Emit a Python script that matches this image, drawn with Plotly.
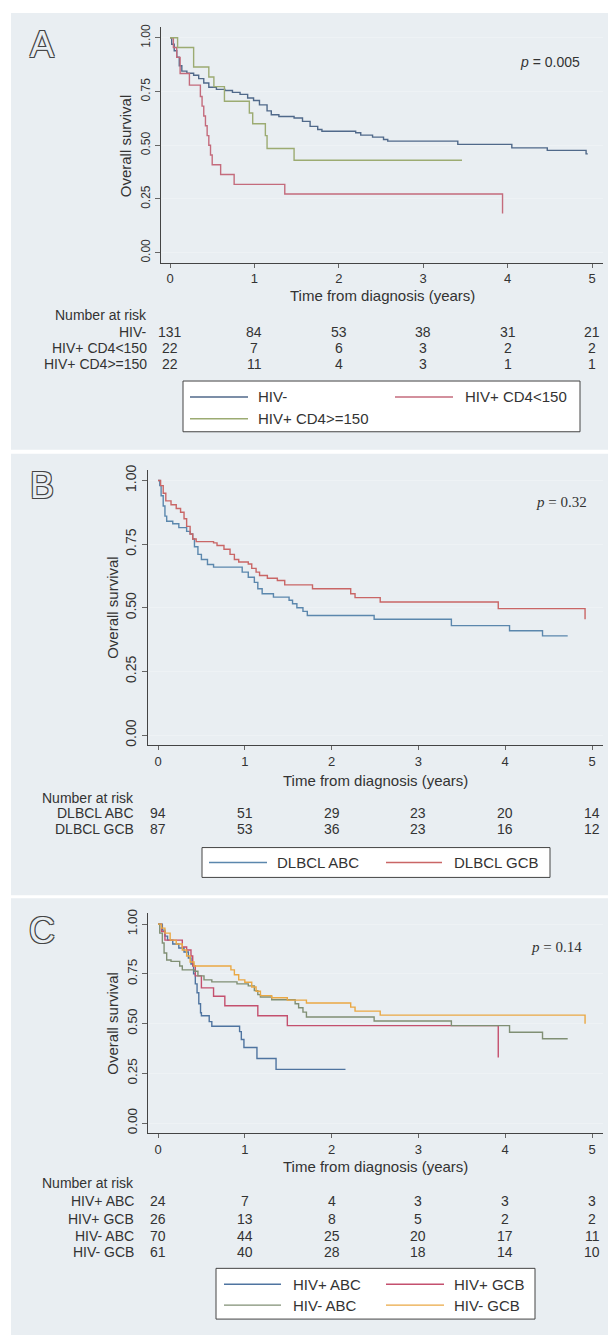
import plotly.graph_objects as go

W, H = 608, 1337
FONT = "Liberation Sans, Arial, sans-serif"
SERIF = "Liberation Serif, Times New Roman, serif"
TXT = "#333333"
PANEL_BG = "#e9eef2"

# ---------------- data ----------------
time_points = [0, 1, 2, 3, 4, 5]

# Panel A
a_names = ["HIV-", "HIV+ CD4<150", "HIV+ CD4>=150"]
a_colors = ["#50698a", "#c46b7c", "#9cab72"]
a_hivneg_t = [0, 0.02, 0.05, 0.08, 0.11, 0.14, 0.20, 0.28, 0.34, 0.40, 0.46, 0.55, 0.65, 0.74, 0.83, 0.92, 0.99,
              1.06, 1.15, 1.20, 1.29, 1.47, 1.57, 1.66, 1.75, 1.80, 2.20, 2.26, 2.40, 2.53, 2.58, 3.41, 4.05, 4.47,
              4.93, 4.95]
a_hivneg_s = [1, 0.97, 0.94, 0.91, 0.87, 0.845, 0.835, 0.826, 0.81, 0.79, 0.77, 0.76, 0.755, 0.746, 0.737, 0.72,
              0.708, 0.688, 0.66, 0.642, 0.634, 0.627, 0.611, 0.588, 0.573, 0.565, 0.558, 0.547, 0.538, 0.527, 0.519,
              0.504, 0.488, 0.476, 0.46, 0.46]
a_low_t = [0, 0.04, 0.08, 0.12, 0.23, 0.36, 0.38, 0.40, 0.42, 0.44, 0.46, 0.48, 0.50, 0.60, 0.76, 1.36, 3.94, 3.94]
a_low_s = [1, 0.955, 0.909, 0.834, 0.78, 0.727, 0.682, 0.636, 0.591, 0.545, 0.5, 0.455, 0.409, 0.364, 0.318, 0.273,
           0.182, 0.182]
a_high_t = [0, 0.09, 0.28, 0.46, 0.52, 0.645, 0.94, 0.98, 1.13, 1.15, 1.47, 3.46]
a_high_s = [1, 0.955, 0.864, 0.818, 0.773, 0.705, 0.65, 0.60, 0.545, 0.485, 0.43, 0.43]
a_risk = [[131, 84, 53, 38, 31, 21], [22, 7, 6, 3, 2, 2], [22, 11, 4, 3, 1, 1]]
a_p = "= 0.005"

# Panel B
b_names = ["DLBCL ABC", "DLBCL GCB"]
b_colors = ["#5b87ad", "#c96666"]
b_abc_t = [0, 0.02, 0.036, 0.06, 0.08, 0.10, 0.17, 0.24, 0.33, 0.37, 0.40, 0.42, 0.46, 0.50, 0.57, 0.64, 0.97, 1.04,
           1.11, 1.15, 1.20, 1.33, 1.51, 1.55, 1.60, 1.67, 1.72, 2.49, 3.38, 4.05, 4.43, 4.72]
b_abc_s = [1, 0.98, 0.94, 0.90, 0.86, 0.84, 0.83, 0.815, 0.80, 0.79, 0.77, 0.74, 0.71, 0.69, 0.67, 0.66, 0.64, 0.62,
           0.60, 0.575, 0.555, 0.542, 0.53, 0.516, 0.50, 0.486, 0.47, 0.455, 0.43, 0.41, 0.39, 0.39]
b_gcb_t = [0, 0.03, 0.06, 0.09, 0.15, 0.21, 0.26, 0.30, 0.33, 0.37, 0.40, 0.44, 0.64, 0.68, 0.76, 0.83, 0.88, 0.93,
           1.04, 1.08, 1.13, 1.17, 1.26, 1.375, 1.46, 1.78, 2.22, 2.27, 2.56, 3.92, 4.92, 4.92]
b_gcb_s = [1, 0.98, 0.95, 0.92, 0.905, 0.89, 0.875, 0.85, 0.82, 0.79, 0.77, 0.76, 0.755, 0.745, 0.73, 0.71, 0.69,
           0.68, 0.672, 0.655, 0.64, 0.627, 0.616, 0.607, 0.59, 0.575, 0.555, 0.54, 0.523, 0.497, 0.497, 0.455]
b_risk = [[94, 51, 29, 23, 20, 14], [87, 53, 36, 23, 16, 12]]
b_p = "= 0.32"

# Panel C
c_names = ["HIV+ ABC", "HIV+ GCB", "HIV- ABC", "HIV- GCB"]
c_colors = ["#4f74a0", "#c4506e", "#808f74", "#eaa844"]
c_pabc_t = [0, 0.05, 0.08, 0.11, 0.17, 0.24, 0.30, 0.35, 0.38, 0.41, 0.43, 0.45, 0.47, 0.49, 0.50, 0.59, 0.62, 0.94,
            0.96, 0.99, 1.14, 1.36, 2.16]
c_pabc_s = [1, 0.97, 0.94, 0.92, 0.90, 0.88, 0.86, 0.83, 0.80, 0.75, 0.70, 0.655, 0.60, 0.555, 0.54, 0.51, 0.487,
            0.46, 0.42, 0.38, 0.325, 0.27, 0.27]
c_pgcb_t = [0, 0.04, 0.08, 0.28, 0.33, 0.38, 0.40, 0.43, 0.50, 0.64, 0.77, 1.15, 1.49, 3.92, 3.92]
c_pgcb_s = [1, 0.963, 0.92, 0.885, 0.87, 0.84, 0.79, 0.74, 0.68, 0.638, 0.59, 0.54, 0.49, 0.33, 0.33]
c_nabc_t = [0, 0.02, 0.05, 0.07, 0.10, 0.15, 0.25, 0.28, 0.42, 0.46, 0.53, 0.62, 0.91, 1.04, 1.11, 1.15, 1.18, 1.31,
            1.58, 1.62, 1.67, 1.71, 2.49, 3.38, 4.05, 4.43, 4.72]
c_nabc_s = [1, 0.955, 0.905, 0.855, 0.82, 0.813, 0.79, 0.77, 0.763, 0.74, 0.72, 0.71, 0.70, 0.69, 0.666, 0.646,
            0.634, 0.62, 0.60, 0.58, 0.558, 0.533, 0.513, 0.49, 0.457, 0.424, 0.424]
c_ngcb_t = [0, 0.04, 0.08, 0.14, 0.21, 0.28, 0.33, 0.37, 0.415, 0.84, 0.88, 0.93, 1.0, 1.08, 1.13, 1.18, 1.31, 1.49,
            1.71, 2.22, 2.27, 2.56, 4.92, 4.92]
c_ngcb_s = [1, 0.98, 0.955, 0.92, 0.90, 0.87, 0.84, 0.81, 0.79, 0.77, 0.746, 0.72, 0.708, 0.684, 0.663, 0.641, 0.63,
            0.618, 0.604, 0.583, 0.563, 0.543, 0.543, 0.50]
c_risk = [[24, 7, 4, 3, 3, 3], [26, 13, 8, 5, 2, 2], [70, 44, 25, 20, 17, 11], [61, 40, 28, 18, 14, 10]]
c_p = "= 0.14"

y_ticks = [0, 0.25, 0.5, 0.75, 1.0]


# ---------------- helpers ----------------
def px(x):
    return x / W


def py(y):
    return 1 - y / H


# panel geometry (pixels)
panels = [
    dict(letter="A", bg=(11, 8, 608, 447), axl=161, axr=603, top=22, bottom=259, t0=170, t5=592, s1=33, s0=249,
         xlab_y=292, ylab_x=125, p_xy=(550, 57), p_font=FONT, ytick_size=12,
         risk_head_y=312, risk_rows=[329, 345, 361], risk_lab_x=149,
         legend_box=(183, 378, 580, 429)),
    dict(letter="B", bg=(11, 451, 608, 895), axl=148, axr=603, top=467, bottom=744, t0=158, t5=592, s1=478, s0=734,
         xlab_y=780, ylab_x=113, p_xy=(561, 500), p_font=SERIF, ytick_size=14,
         risk_head_y=797, risk_rows=[812, 828], risk_lab_x=136,
         legend_box=(202, 847, 550, 877)),
    dict(letter="C", bg=(11, 898, 608, 1337), axl=148, axr=603, top=913, bottom=1134, t0=158, t5=592, s1=924,
         s0=1124, xlab_y=1168, ylab_x=113, p_xy=(556, 947), p_font=SERIF, ytick_size=13.5,
         risk_head_y=1184, risk_rows=[1202, 1220, 1237, 1254], risk_lab_x=136,
         legend_box=(216, 1270, 535, 1321)),
]

series = [
    [(a_hivneg_t, a_hivneg_s), (a_low_t, a_low_s), (a_high_t, a_high_s)],
    [(b_abc_t, b_abc_s), (b_gcb_t, b_gcb_s)],
    [(c_pabc_t, c_pabc_s), (c_pgcb_t, c_pgcb_s), (c_nabc_t, c_nabc_s), (c_ngcb_t, c_ngcb_s)],
]
names = [a_names, b_names, c_names]
colors = [a_colors, b_colors, c_colors]
risks = [a_risk, b_risk, c_risk]
pvals = [a_p, b_p, c_p]

# legend item layout (pixels): (line_x0, line_x1, text_x, y)
legend_items = [
    [(190, 248, 256, 394), (395, 453, 463, 394), (190, 248, 256, 416)],
    [(209, 267, 275, 862), (386, 442, 452, 862)],
    [(224, 281, 291, 1286), (386, 444, 452, 1286), (224, 281, 291, 1307), (386, 444, 452, 1307)],
]

fig = go.Figure()
shapes = []
annotations = []
layout = {}

for i, P in enumerate(panels):
    k = "" if i == 0 else str(i + 1)
    xa, ya = "x" + k, "y" + k
    ppy = (P["t5"] - P["t0"]) / 5.0
    xr = [-(P["t0"] - P["axl"]) / ppy, 5 + (P["axr"] - P["t5"]) / ppy]
    ppu = P["s0"] - P["s1"]
    yr = [-(P["bottom"] - P["s0"]) / ppu, 1 + (P["s1"] - P["top"]) / ppu]

    layout["xaxis" + k] = dict(
        domain=[px(P["axl"]), px(P["axr"])], range=xr, anchor=ya,
        tickvals=time_points, ticks="outside", ticklen=4, tickcolor="#666", tickwidth=1,
        showline=True, linecolor="#444", linewidth=1, showgrid=False, zeroline=False,
        tickfont=dict(family=FONT, size=13, color=TXT), fixedrange=True,
    )
    layout["yaxis" + k] = dict(
        domain=[py(P["bottom"]), py(P["top"])], range=yr, anchor=xa,
        tickvals=y_ticks, tickformat=".2f", ticks="outside", ticklen=5, tickcolor="#666", tickwidth=1,
        tickangle=-90, showline=True, linecolor="#444", linewidth=1,
        showgrid=True, gridcolor="#eef2f5", gridwidth=1, zeroline=False,
        tickfont=dict(family=FONT, size=P["ytick_size"], color=TXT), fixedrange=True,
    )

    # panel background
    x0, y0, x1, y1 = P["bg"]
    shapes.append(dict(type="rect", xref="paper", yref="paper", x0=px(x0), x1=px(x1), y0=py(y1), y1=py(y0),
                       fillcolor=PANEL_BG, line=dict(width=0), layer="below"))

    # curves
    for j, (t, s) in enumerate(series[i]):
        fig.add_trace(go.Scatter(x=t, y=s, mode="lines", line=dict(shape="hv", color=colors[i][j], width=1.4),
                                 xaxis=xa, yaxis=ya, name=names[i][j], showlegend=False, hoverinfo="skip"))

    # axis titles
    annotations.append(dict(text="Time from diagnosis (years)", xref="paper", yref="paper",
                            x=px((P["axl"] + P["axr"]) / 2), y=py(P["xlab_y"]), showarrow=False,
                            xanchor="center", yanchor="middle", font=dict(family=FONT, size=15, color=TXT)))
    annotations.append(dict(text="Overall survival", xref="paper", yref="paper", textangle=-90,
                            x=px(P["ylab_x"]), y=py((P["s0"] + P["s1"]) / 2),
                            showarrow=False, xanchor="center", yanchor="middle",
                            font=dict(family=FONT, size=15, color=TXT)))
    # p value
    psize = 14 if i == 0 else 15
    annotations.append(dict(text="<i>p</i> " + pvals[i], xref="paper", yref="paper",
                            x=px(P["p_xy"][0]), y=py(P["p_xy"][1]), showarrow=False,
                            xanchor="center", yanchor="middle", font=dict(family=P["p_font"], size=psize, color=TXT)))
    # panel letter (outlined)
    annotations.append(dict(text=P["letter"], xref="paper", yref="paper", x=px(42), y=py(P["bg"][1] + 32),
                            showarrow=False, xanchor="center", yanchor="middle",
                            font=dict(family=FONT, size=36, color=PANEL_BG,
                                      shadow="-1px -1px 0 #444, 1px -1px 0 #444, -1px 1px 0 #444, 1px 1px 0 #444")))

    # number at risk table
    annotations.append(dict(text="Number at risk", xref="paper", yref="paper", x=px(P["risk_lab_x"]),
                            y=py(P["risk_head_y"]), showarrow=False, xanchor="right", yanchor="middle",
                            font=dict(family=FONT, size=14, color=TXT)))
    for j, row in enumerate(risks[i]):
        ry = py(P["risk_rows"][j])
        annotations.append(dict(text=names[i][j], xref="paper", yref="paper", x=px(P["risk_lab_x"]), y=ry,
                                showarrow=False, xanchor="right", yanchor="middle",
                                font=dict(family=FONT, size=14, color=TXT)))
        for tp, v in zip(time_points, row):
            annotations.append(dict(text=str(v), xref=xa, yref="paper", x=tp, y=ry, showarrow=False,
                                    xanchor="center", yanchor="middle",
                                    font=dict(family=FONT, size=14, color=TXT)))

    # legend box
    lx0, ly0, lx1, ly1 = P["legend_box"]
    shapes.append(dict(type="rect", xref="paper", yref="paper", x0=px(lx0), x1=px(lx1), y0=py(ly1), y1=py(ly0),
                       fillcolor="white", line=dict(color="#444", width=1), layer="above"))
    for j, (a, b, tx, yy) in enumerate(legend_items[i]):
        shapes.append(dict(type="line", xref="paper", yref="paper", x0=px(a), x1=px(b), y0=py(yy), y1=py(yy),
                           line=dict(color=colors[i][j], width=1.4), layer="above"))
        annotations.append(dict(text=names[i][j], xref="paper", yref="paper", x=px(tx), y=py(yy), showarrow=False,
                                xanchor="left", yanchor="middle", font=dict(family=FONT, size=15, color=TXT)))

fig.update_layout(
    width=W, height=H, autosize=False, margin=dict(l=0, r=0, t=0, b=0),
    paper_bgcolor="white", plot_bgcolor="white", showlegend=False,
    shapes=shapes, annotations=annotations, **layout,
)

fig.write_html(
    "out.html",
    config=dict(displayModeBar=False, staticPlot=True),
    post_script="document.body.style.margin='0';document.body.style.overflow='hidden';"
                "document.documentElement.style.overflow='hidden';",
)
